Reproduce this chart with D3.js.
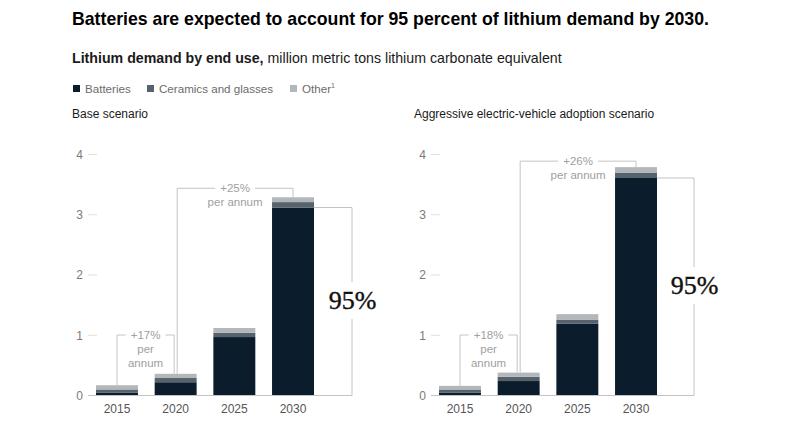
<!DOCTYPE html>
<html>
<head>
<meta charset="utf-8">
<script src="https://cdn.jsdelivr.net/npm/d3@7"></script>
<style>
  body { margin: 0; background: #fff; }
  svg { display: block; font-family: "Liberation Sans", Arial, sans-serif; }
</style>
</head>
<body>
<div id="chart"></div>
<script>
// data, million metric tons LCE
const years = ["2015", "2020", "2025", "2030"];
const segments = ["Batteries", "Ceramics and glasses", "Other"];
const baseBatteries = [0.05, 0.22, 0.97, 3.12];
const baseCeramics = [0.05, 0.07, 0.07, 0.09];
const baseOther = [0.07, 0.07, 0.08, 0.08];
const aggrBatteries = [0.05, 0.24, 1.19, 3.61];
const aggrCeramics = [0.05, 0.07, 0.07, 0.09];
const aggrOther = [0.06, 0.07, 0.09, 0.09];
const yTicks = [0, 1, 2, 3, 4];
const baseGrowth = ["+17%", "+25%"];
const aggrGrowth = ["+18%", "+26%"];
const batteryShare = "95%";

const W = 791, H = 421;
const colors = { "Batteries": "#0b1d2c", "Ceramics and glasses": "#56626c", "Other": "#b3b7ba" };
const lineGrey = "#c4c4c4";

const svg = d3.select("#chart").append("svg")
  .attr("width", W)
  .attr("height", H);

// titles
svg.append("text")
  .attr("x", 72).attr("y", 25)
  .attr("font-size", 17.7).attr("font-weight", "bold").attr("fill", "#000")
  .text("Batteries are expected to account for 95 percent of lithium demand by 2030.");

const sub = svg.append("text")
  .attr("x", 72).attr("y", 63)
  .attr("font-size", 14.2).attr("fill", "#1a1a1a");
sub.append("tspan").attr("font-weight", "bold").text("Lithium demand by end use,");
sub.append("tspan").text(" million metric tons lithium carbonate equivalent");

// legend
const legendX = [73, 147, 290];
segments.forEach((s, i) => {
  const g = svg.append("g").attr("transform", `translate(${legendX[i]}, 85)`);
  g.append("rect").attr("width", 7).attr("height", 7).attr("fill", colors[s]);
  const t = g.append("text").attr("x", 12).attr("y", 7.5)
    .attr("font-size", 11.6).attr("fill", "#6b6b6b").text(s);
  if (s === "Other") {
    t.append("tspan").attr("font-size", 7).attr("dy", -5).text("1");
  }
});

// shared y scale
const y = d3.scaleLinear().domain([0, 4]).range([395.5, 154.5]);

function panel(opts) {
  const { title, titleX, x0, bat, cer, oth, growth, bracketX, shareY } = opts;

  svg.append("text")
    .attr("x", titleX).attr("y", 118)
    .attr("font-size", 12).attr("fill", "#1a1a1a")
    .text(title);

  const x = d3.scaleBand().domain(years)
    .range([x0, x0 + 218])
    .paddingInner(0.285).paddingOuter(0);

  const g = svg.append("g");

  // y axis: labels and short ticks
  const axisX = x0 - 8;
  const yAxis = g.append("g")
    .attr("transform", `translate(${axisX},0)`)
    .call(d3.axisLeft(y).tickValues(yTicks).tickSize(0).tickPadding(5).tickFormat(d3.format("d")));
  yAxis.select(".domain").remove();
  yAxis.selectAll("text").attr("font-size", 12).attr("fill", "#7a7a7a")
    .attr("font-family", "Liberation Sans, Arial, sans-serif");
  g.selectAll(".ytick").data(yTicks.filter(d => d > 0)).join("line")
    .attr("x1", axisX).attr("x2", axisX + 9)
    .attr("y1", d => y(d)).attr("y2", d => y(d))
    .attr("stroke", "#e0e0e0").attr("stroke-width", 1);

  // stacked bars
  const rows = years.map((yr, i) => ({ year: yr, "Batteries": bat[i], "Ceramics and glasses": cer[i], "Other": oth[i] }));
  const stack = d3.stack().keys(segments)(rows);
  g.selectAll(".layer").data(stack).join("g")
    .attr("fill", d => colors[d.key])
    .selectAll("rect").data(d => d).join("rect")
    .attr("x", d => x(d.data.year))
    .attr("width", x.bandwidth())
    .attr("y", d => y(d[1]))
    .attr("height", d => y(d[0]) - y(d[1]));

  const tops = rows.map(r => r["Batteries"] + r["Ceramics and glasses"] + r["Other"]);
  const cx = i => x(years[i]) + x.bandwidth() / 2;

  // baseline
  g.append("line")
    .attr("x1", axisX).attr("x2", bracketX)
    .attr("y1", y(0)).attr("y2", y(0))
    .attr("stroke", lineGrey).attr("stroke-width", 1);

  // growth brackets
  function growthBracket(iFrom, iTo, lineY, label, lines, xa, xb) {
    const mid = (xa + xb) / 2;
    const bg = g.append("g");
    const lbl = bg.append("text")
      .attr("x", mid).attr("y", lineY + 4)
      .attr("text-anchor", "middle").attr("font-size", 11.5).attr("fill", "#a0a0a0")
      .text(label);
    lines.forEach((l, k) => {
      bg.append("text")
        .attr("x", mid).attr("y", lineY + 4 + 14 * (k + 1))
        .attr("text-anchor", "middle").attr("font-size", 11.5).attr("fill", "#a0a0a0")
        .text(l);
    });
    const half = lbl.node().getComputedTextLength() / 2 + 5;
    const path = [
      [[xa, y(tops[iFrom])], [xa, lineY], [mid - half, lineY]],
      [[mid + half, lineY], [xb, lineY], [xb, y(tops[iTo])]]
    ];
    bg.selectAll("path").data(path).join("path")
      .attr("d", d3.line())
      .attr("fill", "none").attr("stroke", lineGrey).attr("stroke-width", 1);
  }
  growthBracket(0, 1, 335, growth[0], ["per", "annum"], cx(0), cx(1) - 1.5);
  growthBracket(1, 3, y(tops[3]) - opts.topGap, growth[1], ["per annum"], cx(1) + 1.5, cx(3));

  // battery share bracket
  const bTop = y(bat[3]);
  const barRight = x(years[3]) + x.bandwidth();
  g.append("path")
    .attr("d", d3.line()([[barRight, bTop], [bracketX, bTop], [bracketX, shareY - 27]]))
    .attr("fill", "none").attr("stroke", lineGrey).attr("stroke-width", 1);
  g.append("line")
    .attr("x1", bracketX).attr("x2", bracketX)
    .attr("y1", shareY + 10).attr("y2", y(0))
    .attr("stroke", lineGrey).attr("stroke-width", 1);
  g.append("text")
    .attr("x", bracketX + 0.5).attr("y", shareY)
    .attr("text-anchor", "middle")
    .attr("font-family", "Liberation Serif, DejaVu Serif, serif")
    .attr("font-size", 26).attr("fill", "#111")
    .attr("stroke", "#111").attr("stroke-width", 0.4)
    .text(batteryShare);
}

panel({
  title: "Base scenario", titleX: 72, x0: 96,
  bat: baseBatteries, cer: baseCeramics, oth: baseOther,
  growth: baseGrowth, bracketX: 352, shareY: 309, topGap: 9
});
panel({
  title: "Aggressive electric-vehicle adoption scenario", titleX: 414, x0: 439,
  bat: aggrBatteries, cer: aggrCeramics, oth: aggrOther,
  growth: aggrGrowth, bracketX: 694, shareY: 294, topGap: 6
});

// x labels
[96, 439].forEach(x0 => {
  const x = d3.scaleBand().domain(years).range([x0, x0 + 218]).paddingInner(0.285).paddingOuter(0);
  const xa = svg.append("g")
    .attr("transform", `translate(0,${y(0) + 2})`)
    .call(d3.axisBottom(x).tickSize(0).tickPadding(7));
  xa.select(".domain").remove();
  xa.selectAll("text").attr("font-size", 12).attr("fill", "#555")
    .attr("font-family", "Liberation Sans, Arial, sans-serif");
});
</script>
</body>
</html>
